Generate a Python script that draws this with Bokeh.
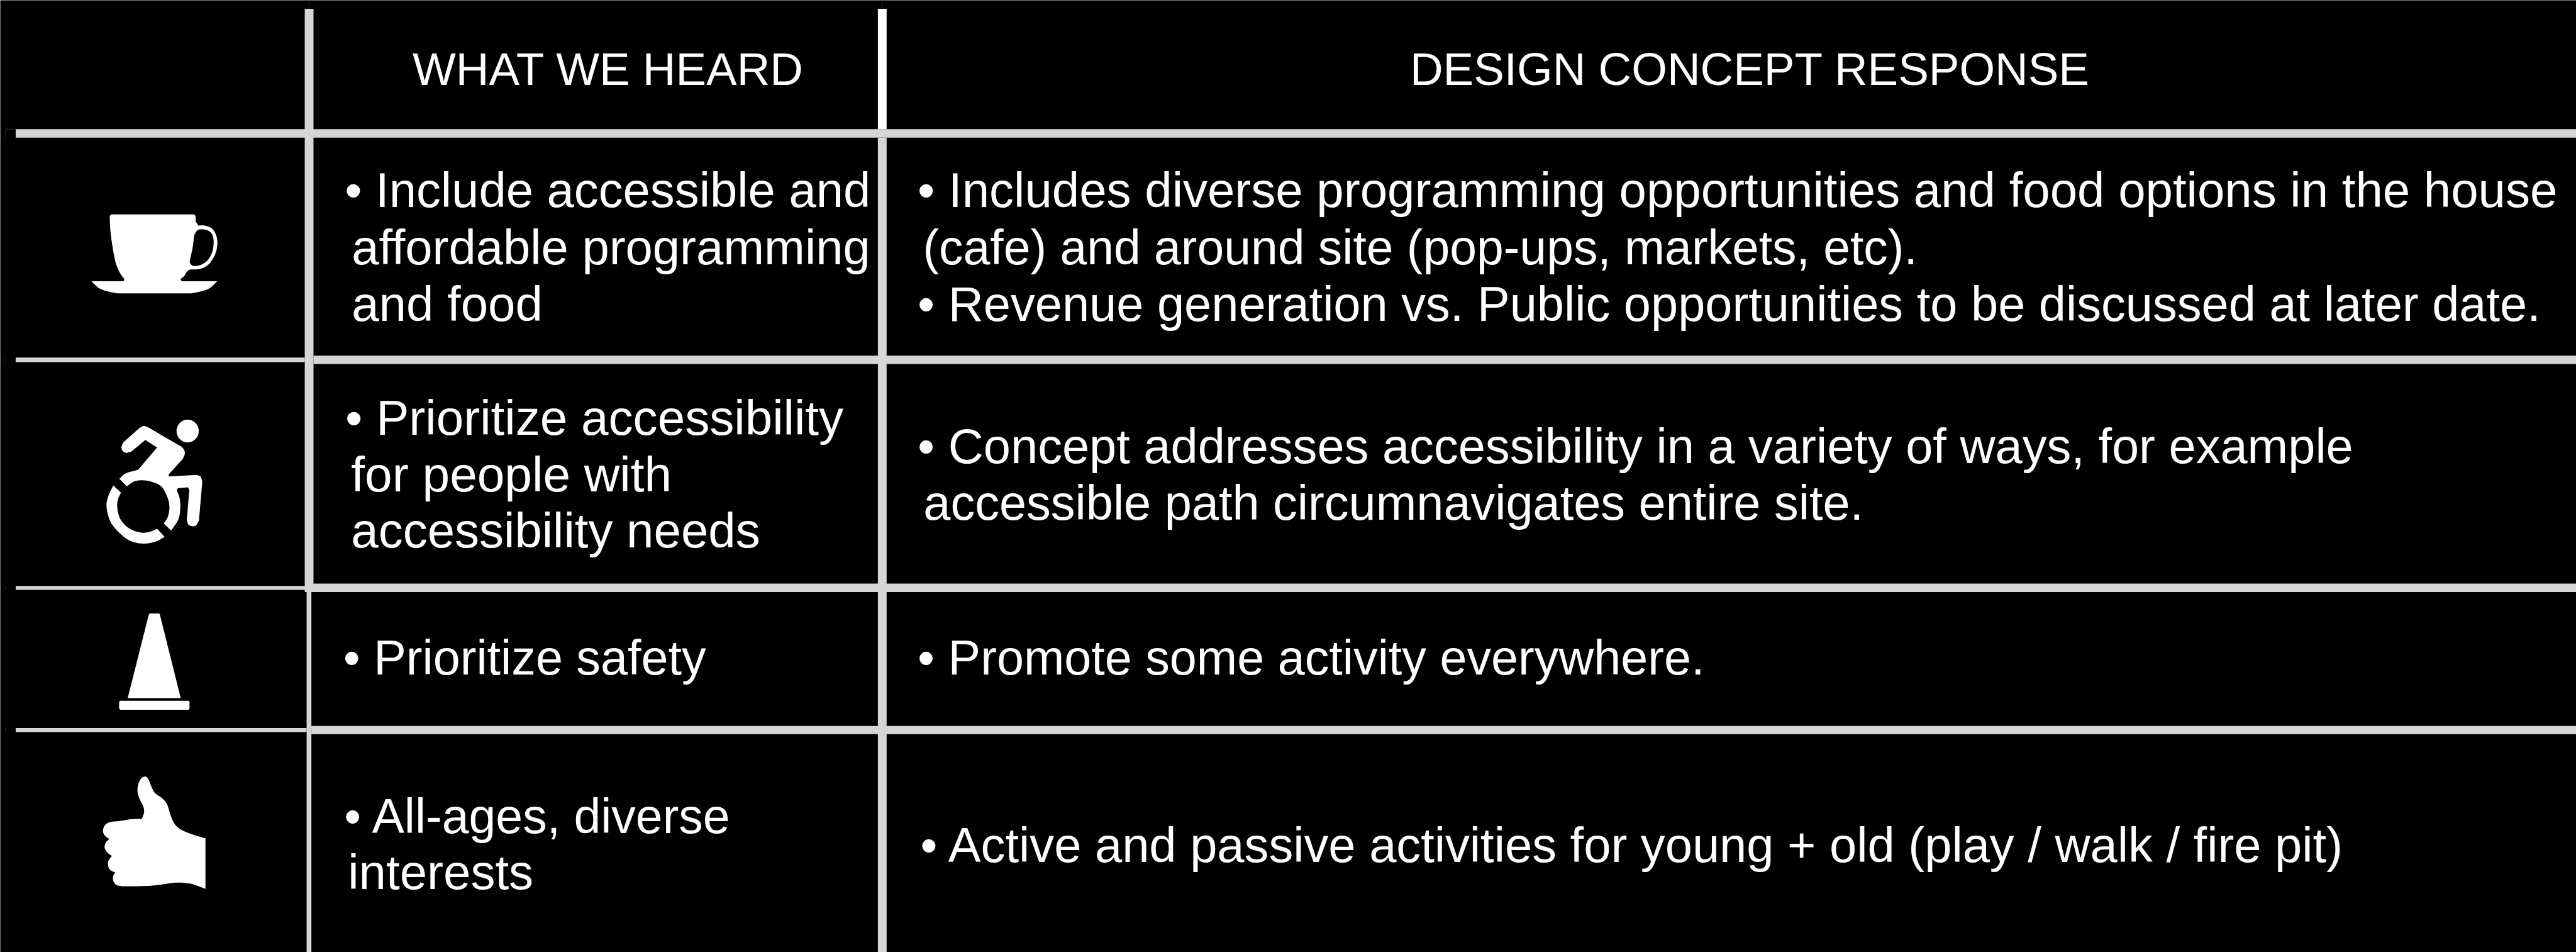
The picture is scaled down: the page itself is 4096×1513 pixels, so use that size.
import numpy as np
from bokeh.plotting import figure
from bokeh.embed import file_html
from bokeh.resources import INLINE
from bokeh.core.properties import value

# ---- content ----
HEADINGS = ["WHAT WE HEARD", "DESIGN CONCEPT RESPONSE"]
HEARD_LINES = [
    "\u2022 Include accessible and", "affordable programming", "and food",
    "\u2022 Prioritize accessibility", "for people with", "accessibility needs",
    "\u2022 Prioritize safety",
    "\u2022 All-ages, diverse", "interests",
]
RESPONSE_LINES = [
    "\u2022 Includes diverse programming opportunities and food options in the house",
    "(cafe) and around site (pop-ups, markets, etc).",
    "\u2022 Revenue generation vs. Public opportunities to be discussed at later date.",
    "\u2022 Concept addresses accessibility in a variety of ways, for example",
    "accessible path circumnavigates entire site.",
    "\u2022 Promote some activity everywhere.",
    "\u2022 Active and passive activities for young + old (play / walk / fire pit)",
]

# ---- layout, in reference pixels ----
REF_W, REF_H = 4861, 1796
WIN_W, WIN_H = 4096, 1513
FIG_W, FIG_H = WIN_W, WIN_H
HEAD_X = [778, 2660]
HEAD_Y = [159, 159]
HEARD_X = [650, 663, 663, 651, 662, 662, 647, 649, 656]
HEARD_Y = [389, 497, 604, 819, 925, 1031, 1271, 1570, 1676]
RESP_X = [1731, 1741, 1731, 1731, 1742, 1731, 1736]
RESP_Y = [389, 497, 604, 872, 979, 1271, 1625]
HEAD_SIZE = 72.9
HEARD_SIZE = [77.8, 77.8, 78.0, 78.2, 78.4, 78.0, 77.3, 77.0, 78.0]
RESP_SIZE = [78.0, 76.9, 77.6, 77.6, 77.5, 77.3, 77.7]
BASE_SHIFT = -0.336  # em, from the browser's baseline to the drawn baseline

# gray rules: left, right, top, bottom
RULE_L = [29, 29, 591, 29, 575, 29, 587, 574.5, 578, 1656]
RULE_R = [4861, 574.5, 4861, 575, 4861, 578, 4861, 591, 587, 1672.5]
RULE_T = [243, 674, 670.5, 1104.7, 1100.5, 1372.7, 1369, 16, 1116.5, 259]
RULE_B = [259, 682.5, 686, 1112.4, 1116.5, 1380.5, 1384.5, 1116.5, 1796, 1796]
WHITE_RULE = dict(l=1656, r=1672.5, t=16, b=243)
RULE_COLOR = "#d6d6d6"
# faint hairlines left over beside the rules
HAIR_X = [[10, 29], [10, 10], [10, 10], [10, 10], [10, 10], [582.5, 582.5], [575, 591], [1664, 1664], [1656, 1672]]
HAIR_Y = [[243, 243], [243, 259], [674, 682], [1105, 1112], [1373, 1380], [0, 16], [0.6, 0.6], [0, 16], [0.6, 0.6]]


def spline(run, n=10):
    """Catmull-Rom through one traced run of icon outline points."""
    pts = np.array(run, float)
    if len(pts) < 3:
        return pts
    ext = np.vstack([2 * pts[0] - pts[1], pts, 2 * pts[-1] - pts[-2]])
    out = []
    for i in range(1, len(ext) - 2):
        p0, p1, p2, p3 = ext[i - 1], ext[i], ext[i + 1], ext[i + 2]
        for t in np.linspace(0, 1, n, endpoint=False):
            out.append(0.5 * (2 * p1 + (p2 - p0) * t + (2 * p0 - 5 * p1 + 4 * p2 - p3) * t ** 2
                              + (3 * p1 - p0 - 3 * p2 + p3) * t ** 3))
    out.append(pts[-1])
    return np.array(out)


def outline(runs, sx, sy, y0):
    pts = np.vstack([spline(r) for r in runs])
    return list(pts[:, 0] / sx), list(y0 + pts[:, 1] / sy)


S1 = (2.529, 1.96, 280)
S2 = (2.529, 2.19, 1080)
CUP = [
    [(522, 250), (528, 243)], [(528, 243), (925, 243)], [(925, 243), (932, 250)], [(932, 250), (932, 268)],
    [(932, 268), (945, 284)], [(945, 284), (975, 284), (1010, 295), (1030, 320), (1036, 350), (1028, 385),
                               (1005, 418), (975, 438), (940, 446), (905, 447), (890, 455), (878, 470), (860, 482)],
    [(860, 482), (866, 490)], [(866, 490), (1035, 490)],
    [(1035, 490), (1000, 515), (960, 527), (910, 535)], [(910, 535), (560, 535)],
    [(560, 535), (510, 527), (470, 515), (435, 490)], [(435, 490), (588, 490)], [(588, 490), (592, 482)],
    [(592, 482), (570, 458), (550, 420), (535, 360), (525, 300), (522, 250)],
]
CUP_HOLE = [
    [(925, 320), (940, 302), (960, 298), (990, 302), (1012, 318), (1018, 345), (1012, 380), (990, 412), (955, 430),
     (920, 433), (905, 422), (905, 410)],
    [(905, 410), (918, 365), (925, 320)],
]
RIDER = [
    [(600, 1125), (585, 1118), (578, 1103), (588, 1085)], [(588, 1085), (665, 1032)],
    [(665, 1032), (685, 1025), (705, 1030)], [(705, 1030), (865, 1102)],
    [(865, 1102), (878, 1115), (880, 1130), (870, 1148)], [(870, 1148), (803, 1205)], [(803, 1205), (805, 1212)],
    [(805, 1212), (935, 1206)], [(935, 1206), (955, 1212), (964, 1230)], [(964, 1230), (948, 1375)],
    [(948, 1375), (935, 1392), (918, 1396), (898, 1390), (890, 1372)], [(890, 1372), (902, 1262)],
    [(902, 1262), (895, 1252)], [(895, 1252), (848, 1255)], [(848, 1255), (842, 1262)],
    [(842, 1262), (855, 1290), (859, 1325), (850, 1370), (815, 1412)], [(815, 1412), (780, 1386)],
    [(780, 1386), (800, 1360), (807, 1325), (798, 1290), (770, 1250), (725, 1232), (680, 1226), (640, 1230), (603, 1248)],
    [(603, 1248), (568, 1220)], [(568, 1220), (600, 1200), (658, 1187)], [(658, 1187), (748, 1105)],
    [(748, 1105), (692, 1077)], [(692, 1077), (625, 1120)], [(625, 1120), (600, 1125)],
]
WHEEL = [
    [(539, 1245), (576, 1272)],
    [(576, 1272), (562, 1295), (558, 1325), (570, 1365), (600, 1395), (640, 1413), (682, 1420), (720, 1415), (748, 1405)],
    [(748, 1405), (784, 1435)],
    [(784, 1435), (740, 1453), (682, 1460), (620, 1450), (565, 1418), (525, 1378), (507, 1325), (515, 1285), (539, 1245)],
]
HEAD_C = (353.5, 812.6)
HEAD_D = (42, 43)
CONE = [
    [(608, 518), (707, 178)], [(707, 178), (712, 169), (718, 168)], [(718, 168), (755, 168)],
    [(755, 168), (760, 170), (763, 178)], [(763, 178), (861, 518)],
]
CONE_BASE = [[(572, 529), (898, 529), ], [(898, 529), (903, 534)], [(903, 534), (903, 561)], [(903, 561), (898, 566)],
             [(898, 566), (572, 566)], [(572, 566), (567, 561)], [(567, 561), (567, 534)], [(567, 534), (572, 529)]]
THUMB = [
    [(979, 1097), (920, 1082), (860, 1060), (830, 1035), (812, 1000), (795, 955), (770, 930), (738, 910), (722, 885),
     (705, 850), (690, 842), (672, 850), (658, 875), (655, 905), (665, 935), (682, 965), (686, 990), (675, 1017)],
    [(675, 1017), (625, 1018), (575, 1025), (525, 1030), (500, 1042), (490, 1065), (498, 1085), (520, 1100)],
    [(520, 1100), (503, 1115), (498, 1135), (510, 1155), (532, 1170)],
    [(532, 1170), (516, 1190), (514, 1210), (525, 1228), (548, 1238)],
    [(548, 1238), (538, 1255), (540, 1275), (555, 1290), (580, 1295)],
    [(580, 1295), (700, 1294), (770, 1288), (840, 1280), (910, 1285), (979, 1306)],
    [(979, 1306), (979, 1097)],
]

p = figure(width=FIG_W, height=FIG_H, output_backend="svg", toolbar_location=None,
           x_range=(0, REF_W), y_range=(REF_H, 0),
           background_fill_color="#000000", border_fill_color="#000000", min_border=0)
p.axis.visible = False
p.grid.visible = False
p.outline_line_color = None

p.multi_line(xs=HAIR_X, ys=HAIR_Y, line_color="#303030", line_width=1)
p.quad(left=RULE_L, right=RULE_R, top=RULE_T, bottom=RULE_B, fill_color=RULE_COLOR, line_color=None)
p.quad(left=[WHITE_RULE["l"]], right=[WHITE_RULE["r"]], top=[WHITE_RULE["t"]], bottom=[WHITE_RULE["b"]],
       fill_color="#ffffff", line_color=None)

for runs, s in [(CUP, S1), (RIDER, S1), (WHEEL, S1), (CONE, S2), (CONE_BASE, S2), (THUMB, S2)]:
    xs, ys = outline(runs, *s)
    p.patch(xs, ys, fill_color="#ffffff", line_color=None)
xs, ys = outline(CUP_HOLE, *S1)
p.patch(xs, ys, fill_color="#000000", line_color=None)
p.ellipse(x=[HEAD_C[0]], y=[HEAD_C[1]], width=[HEAD_D[0]], height=[HEAD_D[1]], fill_color="#ffffff", line_color=None)

FONT = value("Liberation Sans")
p.text(x=HEAD_X, y=HEAD_Y, text=HEADINGS, text_color="#ffffff", text_font=FONT, text_font_size=f"{HEAD_SIZE}px",
       text_baseline="alphabetic", text_align="left", y_offset=BASE_SHIFT * HEAD_SIZE)
for xs_, ys_, lines, sizes in [(HEARD_X, HEARD_Y, HEARD_LINES, HEARD_SIZE), (RESP_X, RESP_Y, RESPONSE_LINES, RESP_SIZE)]:
    p.text(x="x", y="y", text="t", source=dict(x=xs_, y=ys_, t=lines, s=[f"{v}px" for v in sizes]),
           text_color="#ffffff", text_font=FONT, text_font_size={"field": "s"},
           text_baseline="alphabetic", text_align="left", y_offset=BASE_SHIFT * 78)

open("out.html", "w").write(file_html(p, INLINE, title="What we heard"))
